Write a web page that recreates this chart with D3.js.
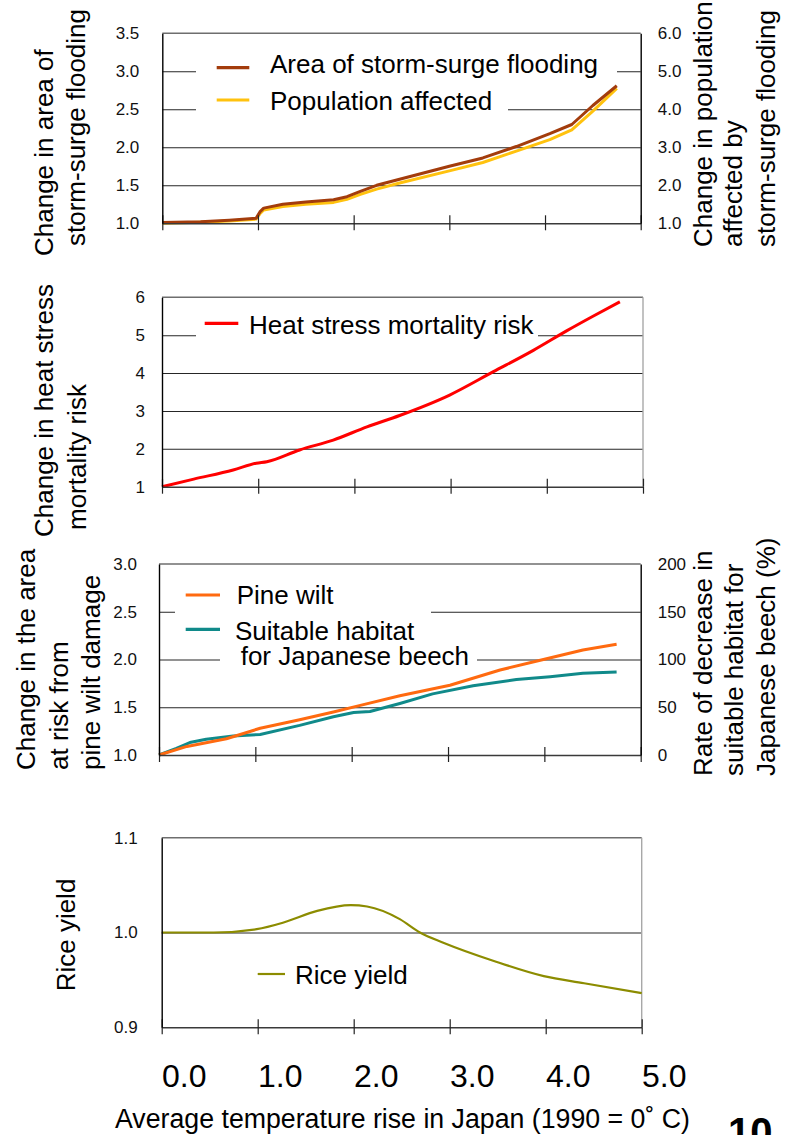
<!DOCTYPE html>
<html><head><meta charset="utf-8">
<script src="https://cdn.jsdelivr.net/npm/d3@7"></script>
<style>
body{margin:0;background:#fff;}
svg{display:block;font-family:"Liberation Sans",Arial,sans-serif;}
</style></head>
<body>
<script>
// ---------------- data ----------------
const xTicks = [0, 1, 2, 3, 4, 5];

// storm-surge flooding
const tempsSurge = [0, 0.4, 0.7, 0.98, 1.02, 1.06, 1.26, 1.5, 1.79, 1.93, 2.07, 2.24, 2.48, 3.0, 3.35, 3.7, 4.05, 4.28, 4.5, 4.75];
const surgeArea  = [1.01, 1.02, 1.04, 1.065, 1.15, 1.2, 1.25, 1.28, 1.31, 1.35, 1.42, 1.5, 1.58, 1.75, 1.86, 2.01, 2.18, 2.3, 2.55, 2.81];
const surgePop   = [1.0, 1.03, 1.06, 1.11, 1.25, 1.35, 1.44, 1.5, 1.55, 1.63, 1.76, 1.9, 2.06, 2.38, 2.6, 2.9, 3.2, 3.46, 3.95, 4.55];
const surgeLeftTicks  = [1.0, 1.5, 2.0, 2.5, 3.0, 3.5];
const surgeRightTicks = [1, 2, 3, 4, 5, 6];

// heat stress
const tempsHeat = [0, 0.33, 0.74, 0.98, 1.09, 1.43, 1.78, 2.13, 2.47, 2.99, 3.44, 3.86, 4.21, 4.48, 4.76];
const heatRisk  = [1.0, 1.2, 1.44, 1.62, 1.66, 1.97, 2.23, 2.58, 2.88, 3.42, 4.03, 4.6, 5.12, 5.5, 5.88];
const heatTicks = [1, 2, 3, 4, 5, 6];

// pine wilt / beech
const tempsPine = [0, 0.29, 0.7, 1.05, 1.46, 1.81, 2.09, 2.5, 3.02, 3.54, 3.99, 4.4, 4.75];
const pineWilt  = [1.0, 1.09, 1.17, 1.28, 1.37, 1.45, 1.52, 1.62, 1.73, 1.89, 2.0, 2.1, 2.16];
const tempsBeech = [0, 0.18, 0.32, 0.49, 0.77, 1.05, 1.46, 1.81, 2.02, 2.19, 2.5, 2.84, 3.26, 3.71, 4.06, 4.4, 4.75];
const beechDecrease = [0, 7, 13, 16.5, 20, 21.5, 31, 40, 44.5, 45.5, 54, 64, 72.5, 79, 82, 85.5, 87];
const pineTicks  = [1.0, 1.5, 2.0, 2.5, 3.0];
const beechTicks = [0, 50, 100, 150, 200];

// rice
const tempsRice = [0, 0.54, 0.99, 1.27, 1.62, 1.97, 2.14, 2.48, 2.69, 2.94, 3.46, 3.98, 4.4, 5.0];
const riceYield = [1.0, 1.0, 1.0035, 1.0105, 1.0228, 1.0288, 1.0274, 1.0141, 1.0, 0.989, 0.970, 0.954, 0.9465, 0.936];
const riceTicks = [0.9, 1.0, 1.1];

// ---------------- drawing ----------------
const svg = d3.select("body").append("svg").attr("width", 794).attr("height", 1135);
const FONT_T = 26;

function pts(xs, ys) { return xs.map((t, i) => [t, ys[i]]); }

function frame(x, y, gridVals, rightColor) {
  const [x0, x1] = x.range();
  const [yb, yt] = y.range();
  const g = svg.append("g");
  g.append("g").attr("transform", `translate(${x0},0)`)
    .call(d3.axisLeft(y).tickValues(gridVals).tickSize(-(x1 - x0)).tickFormat(""))
    .call(s => s.select(".domain").remove())
    .selectAll("line").attr("stroke", "#262626").attr("stroke-width", 1.1);
  g.append("line").attr("x1", x0).attr("x2", x1).attr("y1", yt).attr("y2", yt)
    .attr("stroke", "#6e6e6e").attr("stroke-width", 1.4);
  if (rightColor) g.append("line").attr("x1", x1).attr("x2", x1).attr("y1", yt).attr("y2", yb)
    .attr("stroke", rightColor).attr("stroke-width", 1.4);
  return g;
}

function bottomAxis(x, yb) {
  const g = svg.append("g").attr("transform", `translate(0,${yb})`);
  g.call(d3.axisBottom(x).tickValues(xTicks).tickSize(7).tickSizeOuter(0).tickFormat(""));
  g.select(".domain").attr("stroke", "#3a3a3a").attr("stroke-width", 1.6);
  g.selectAll(".tick line").attr("stroke", "#222").attr("stroke-width", 1.2);
  const g2 = svg.append("g").attr("transform", `translate(0,${yb})`);
  g2.call(d3.axisTop(x).tickValues(xTicks).tickSize(8).tickFormat(""));
  g2.select(".domain").remove();
  g2.selectAll(".tick line").attr("stroke", "#222").attr("stroke-width", 1.2);
}

function leftAxis(x, y, ticks, fmt, pad) {
  const g = svg.append("g").attr("transform", `translate(${x.range()[0]},0)`);
  g.call(d3.axisLeft(y).tickValues(ticks).tickSize(0).tickSizeOuter(0).tickPadding(pad).tickFormat(fmt));
  g.select(".domain").attr("stroke", "#000").attr("stroke-width", 1.4);
  g.selectAll("text").attr("font-size", 17).attr("fill", "#111").attr("font-family", "'Liberation Sans',Arial,sans-serif");
}

function rightAxis(x, y, ticks, fmt, pad) {
  const g = svg.append("g").attr("transform", `translate(${x.range()[1]},0)`);
  g.call(d3.axisRight(y).tickValues(ticks).tickSize(0).tickSizeOuter(0).tickPadding(pad).tickFormat(fmt));
  g.select(".domain").attr("stroke", "#000").attr("stroke-width", 1.4);
  g.selectAll("text").attr("font-size", 17).attr("fill", "#111").attr("font-family", "'Liberation Sans',Arial,sans-serif");
}

function series(x, y, data, color, w, curve) {
  svg.append("path").datum(data)
    .attr("d", d3.line().x(d => x(d[0])).y(d => y(d[1])).curve(curve || d3.curveLinear))
    .attr("fill", "none").attr("stroke", color).attr("stroke-width", w)
    .attr("stroke-linejoin", "round").attr("stroke-linecap", "butt");
}

function whiteBox(x, y, w, h) {
  svg.append("rect").attr("x", x).attr("y", y).attr("width", w).attr("height", h).attr("fill", "#fff");
}

function legendItem(lx1, lx2, ly, color, w, lines) {
  svg.append("line").attr("x1", lx1).attr("x2", lx2).attr("y1", ly).attr("y2", ly)
    .attr("stroke", color).attr("stroke-width", w);
  lines.forEach(l => {
    svg.append("text").attr("x", l.x).attr("y", l.y).attr("font-size", FONT_T).attr("fill", "#000").text(l.t);
  });
}

function vtitle(bx, startY, txt, anchor) {
  svg.append("text").attr("transform", `translate(${bx},${startY}) rotate(-90)`)
    .attr("text-anchor", anchor || "start").attr("font-size", FONT_T).attr("fill", "#000").text(txt);
}

const f1 = d3.format(".1f");
const f0 = d3.format("d");

// ---- Panel 1: storm-surge ----
{
  const x = d3.scaleLinear().domain([0, 5]).range([162.3, 640.7]);
  const yL = d3.scaleLinear().domain([1, 3.5]).range([223.3, 33.3]);
  const yR = d3.scaleLinear().domain([1, 6]).range([223.3, 33.3]);
  frame(x, yL, [1.5, 2.0, 2.5, 3.0], null);
  whiteBox(196, 58, 617 - 196, 24);
  whiteBox(196, 97, 508 - 196, 24);
  series(x, yR, pts(tempsSurge, surgePop), "#FFC20E", 3);
  series(x, yL, pts(tempsSurge, surgeArea), "#A33C0C", 3);
  bottomAxis(x, 223.3);
  leftAxis(x, yL, surgeLeftTicks, f1, 23);
  rightAxis(x, yR, surgeRightTicks, f1, 17);
  legendItem(216.7, 249.3, 67.7, "#A33C0C", 3.2, [{x: 270, y: 73, t: "Area of storm-surge flooding"}]);
  legendItem(216.7, 249.3, 100, "#FFC20E", 3.2, [{x: 270, y: 110, t: "Population affected"}]);
  vtitle(53, 256, "Change in area of");
  vtitle(85, 246, "storm-surge flooding");
  vtitle(712, 247, "Change in population");
  vtitle(742, 247, "affected by");
  vtitle(775, 247, "storm-surge flooding");
}

// ---- Panel 2: heat stress ----
{
  const x = d3.scaleLinear().domain([0, 5]).range([162, 643]);
  const y = d3.scaleLinear().domain([1, 6]).range([486.7, 297.3]);
  frame(x, y, [2, 3, 4, 5], "#a8a8a8");
  whiteBox(196, 323, 538 - 196, 24);
  series(x, y, pts(tempsHeat, heatRisk), "#FF0000", 3, d3.curveMonotoneX);
  bottomAxis(x, 486.7);
  leftAxis(x, y, heatTicks, f0, 17);
  legendItem(204.7, 238.3, 323.3, "#FF0000", 3.2, [{x: 249, y: 334, t: "Heat stress mortality risk"}]);
  vtitle(53, 537, "Change in heat stress");
  vtitle(86, 530, "mortality risk");
}

// ---- Panel 3: pine wilt / beech ----
{
  const x = d3.scaleLinear().domain([0, 5]).range([159, 640.7]);
  const yL = d3.scaleLinear().domain([1, 3]).range([755, 564]);
  const yR = d3.scaleLinear().domain([0, 200]).range([755, 564]);
  frame(x, yL, [1.5, 2.0, 2.5], null);
  whiteBox(175, 599, 431 - 175, 24);
  whiteBox(220, 647, 477 - 220, 24);
  series(x, yR, pts(tempsBeech, beechDecrease), "#108A8A", 3);
  series(x, yL, pts(tempsPine, pineWilt), "#FF6A10", 3);
  bottomAxis(x, 755);
  leftAxis(x, yL, pineTicks, f1, 22);
  rightAxis(x, yR, beechTicks, f0, 17);
  legendItem(185.7, 220, 595, "#FF6A10", 3.2, [{x: 236.7, y: 604, t: "Pine wilt"}]);
  legendItem(185.7, 220, 629.3, "#108A8A", 3.2, [{x: 235, y: 640, t: "Suitable habitat"}, {x: 240.7, y: 665, t: "for Japanese beech"}]);
  vtitle(35, 770, "Change in the area");
  vtitle(68, 770, "at risk from");
  vtitle(100, 770, "pine wilt damage");
  vtitle(712, 776, "Rate of decrease in");
  vtitle(743, 776, "suitable habitat for");
  vtitle(775, 776, "Japanese beech (%)");
}

// ---- Panel 4: rice ----
{
  const x = d3.scaleLinear().domain([0, 5]).range([161.7, 641.7]);
  const y = d3.scaleLinear().domain([0.9, 1.1]).range([1027.3, 837.7]);
  frame(x, y, [1.0], "#a8a8a8");
  series(x, y, pts(tempsRice, riceYield), "#8C8C00", 2.2, d3.curveMonotoneX);
  bottomAxis(x, 1027.3);
  leftAxis(x, y, riceTicks, f1, 24);
  legendItem(257.7, 285, 974, "#8C8C00", 2.2, [{x: 295, y: 984, t: "Rice yield"}]);
  vtitle(75, 935, "Rice yield", "middle");

  const gx = svg.append("g").attr("transform", `translate(22,1027.3)`);
  gx.call(d3.axisBottom(x).tickValues(xTicks).tickSize(0).tickPadding(0).tickFormat(f1));
  gx.select(".domain").remove();
  gx.selectAll("text").attr("font-size", 32).attr("fill", "#000").attr("dy", null).attr("y", 60)
    .attr("font-family", "'Liberation Sans',Arial,sans-serif");
}

// x-axis title and page number
svg.append("text").attr("x", 115).attr("y", 1128).attr("font-size", 27)
  .attr("textLength", 575).attr("lengthAdjust", "spacingAndGlyphs")
  .text("Average temperature rise in Japan (1990 = 0\u02da  C)");
svg.append("text").attr("x", 728).attr("y", 1146).attr("font-size", 40).attr("font-weight", "bold").text("10");
</script>
</body></html>
